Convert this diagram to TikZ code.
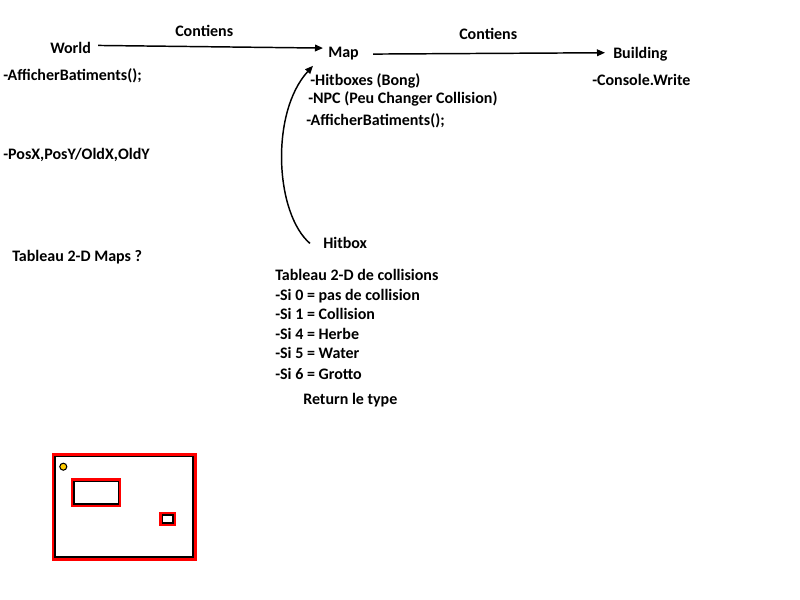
\documentclass[tikz,border=0pt]{standalone}
\usepackage{fontspec}
\setmainfont{Carlito}
\usetikzlibrary{arrows.meta}

\definecolor{rouge}{RGB}{255,0,0}
\definecolor{jaune}{RGB}{255,204,0}

\tikzset{
  txt/.style={anchor=base west, inner sep=0pt, font=\bfseries\fontsize{12}{14}\selectfont},
  contient/.style={-{Triangle[length=6pt,width=5pt]}, line width=1.1pt},
  bordrouge/.style={draw=rouge, line width=1.8pt},
  bordnoir/.style={draw=black, line width=1.3pt}
}

\begin{document}
\begin{tikzpicture}[x=0.75pt,y=-0.75pt]
\useasboundingbox (0,0) rectangle (800,600);

% classes
\node[txt] (world) at (50,53) {World};
\node[txt] (map) at (328,57) {Map};
\node[txt] (building) at (613,58) {Building};
\node[txt] (hitbox) at (323,248) {Hitbox};

\node[txt] (cont1) at (175,36) {Contiens};
\node[txt] (cont2) at (459,39) {Contiens};

% World
\node[txt] (wafficher) at (3,80.5) {-AfficherBatiments();};
\node[txt] (wpos) at (3,159) {-PosX,PosY/OldX,OldY};
\node[txt] (wtab) at (12,261) {Tableau 2-D Maps ?};

% Map
\node[txt] (hitboxes) at (310,85) {-Hitboxes (Bong)};
\node[txt] (npc) at (308,103) {-NPC (Peu Changer Collision)};
\node[txt] (mafficher) at (306,125) {-AfficherBatiments();};

% Building
\node[txt] (console) at (592,85) {-Console.Write};

% Hitbox
\node[txt] (htab) at (275,280.5) {Tableau 2-D de collisions};
\node[txt] (si0) at (275,300) {-Si 0 = pas de collision};
\node[txt] (si1) at (275,319.5) {-Si 1 = Collision};
\node[txt] (si4) at (275,339) {-Si 4 = Herbe};
\node[txt] (si5) at (275,358.5) {-Si 5 = Water};
\node[txt] (si6) at (275,379) {-Si 6 = Grotto};
\node[txt] (retour) at (303,404) {Return le type};

% liens
\draw[contient] ([shift={(7,-2)}]world.east) -- ([shift={(-5,-5)}]map.west);
\draw[contient] ([shift={(14,1)}]map.east) -- ([shift={(-8,-1)}]building.west);
\draw[contient] ([shift={(-13,1)}]hitbox.west) .. controls +(-35,-30) and +(-43,47) .. ([shift={(-15,6)}]map.south west);

% petite carte
\draw[bordrouge] (52.8,454.5) rectangle (195.5,559.5);
\draw[bordnoir] (54.8,456.5) rectangle (193.2,557.2);
\draw[bordrouge] (71.8,479.5) rectangle (120.2,505.5);
\draw[bordnoir] (73.8,481.5) rectangle (118.5,504);
\draw[bordrouge] (160.5,513.2) rectangle (174.5,524.5);
\draw[bordnoir] (162.5,514.8) rectangle (172.8,522.8);
\filldraw[fill=jaune, draw=black, line width=0.8pt] (63.3,466.7) circle (3.5);

\end{tikzpicture}
\end{document}
